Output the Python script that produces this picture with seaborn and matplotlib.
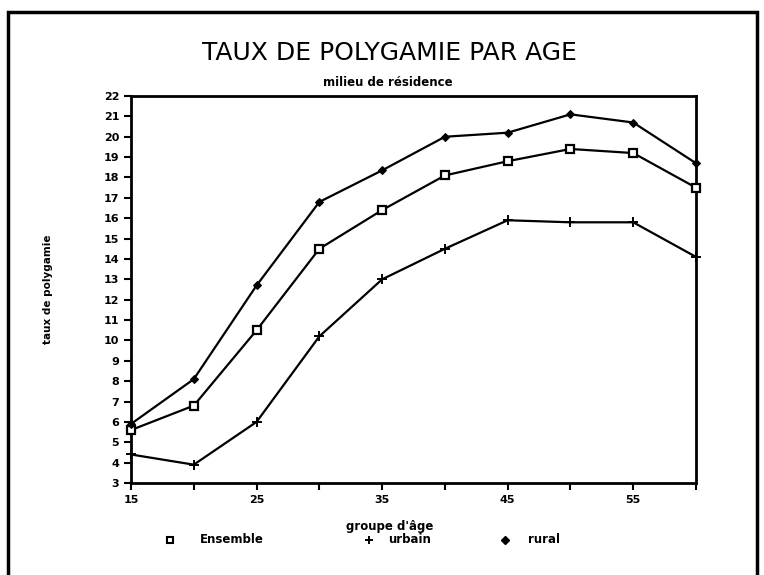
import pandas as pd
import numpy as np
import seaborn as sns
import matplotlib.pyplot as plt
from matplotlib.lines import Line2D
from matplotlib.patches import Rectangle

ages = [15, 20, 25, 30, 35, 40, 45, 50, 55, 60]
ensemble = [5.6, 6.8, 10.5, 14.5, 16.4, 18.1, 18.8, 19.4, 19.2, 17.5]
urbain = [4.4, 3.9, 6.0, 10.2, 13.0, 14.5, 15.9, 15.8, 15.8, 14.1]
rural = [5.9, 8.1, 12.7, 16.8, 18.35, 20.0, 20.2, 21.1, 20.7, 18.7]
series = ["Ensemble", "urbain", "rural"]
xtick_labels = [15, 25, 35, 45, 55]

sns.set_style("ticks")
plt.rcParams["font.family"] = ["DejaVu Sans"]
plt.rcParams["text.color"] = "black"
plt.rcParams["xtick.color"] = "black"
plt.rcParams["ytick.color"] = "black"

df = pd.DataFrame({
    "age": ages * 3,
    "taux": ensemble + urbain + rural,
    "milieu": [s for s in series for _ in ages],
})

fig = plt.figure(figsize=(7.64, 5.75), dpi=100)
ax = fig.add_axes([0.1715, 0.16, 0.7395, 0.673])

# one call per series: seaborn won't mix filled and line-art markers
marker_kw = {
    "Ensemble": dict(marker="s", markersize=5.5, markerfacecolor="white",
                     markeredgecolor="black", markeredgewidth=1.6),
    "urbain": dict(marker="+", markersize=6.5, markeredgewidth=1.4,
                   markeredgecolor="black"),
    "rural": dict(marker="D", markersize=4.5, markerfacecolor="black",
                  markeredgecolor="black"),
}
for name in series:
    sns.lineplot(data=df[df["milieu"] == name], x="age", y="taux",
                 color="black", linewidth=1.6, ax=ax, **marker_kw[name])
for line in ax.lines:
    line.set_clip_on(False)
    line.set_zorder(5)

ax.set_xlim(15, 60)
ax.set_ylim(3, 22)
ax.set_xticks(np.arange(15, 61, 5))
ax.set_xticklabels([str(a) if a in xtick_labels else "" for a in range(15, 61, 5)])
ax.set_yticks(np.arange(3, 23, 1))
ax.tick_params(axis="both", direction="out", length=5, width=1.5, labelsize=8)
for lab in ax.get_xticklabels() + ax.get_yticklabels():
    lab.set_fontweight("bold")
for sp in ax.spines.values():
    sp.set_visible(True)
    sp.set_linewidth(2)
    sp.set_color("black")
ax.set_xlabel("")
ax.set_ylabel("")

fig.text(0.51, 0.907, "TAUX DE POLYGAMIE PAR AGE", ha="center", va="center",
         fontsize=18)
fig.text(0.508, 0.856, "milieu de résidence", ha="center", va="center",
         fontsize=8.5, fontweight="bold")
fig.text(0.063, 0.497, "taux de polygamie", ha="center", va="center",
         rotation=90, fontsize=7.5, fontweight="bold")
fig.text(0.51, 0.084, "groupe d'âge", ha="center", va="center",
         fontsize=8.5, fontweight="bold")

# legend row under the x label: marker then label
legend_marks = [
    dict(marker="s", mfc="white", mec="black", mew=1.5, ms=5),
    dict(marker="+", color="black", mew=1.4, ms=6),
    dict(marker="D", color="black", ms=4),
]
marker_x = [0.222, 0.483, 0.661]
text_x = [0.262, 0.508, 0.691]
for name, mk, mx, tx in zip(series, legend_marks, marker_x, text_x):
    fig.add_artist(Line2D([mx], [0.061], ls="none", transform=fig.transFigure, **mk))
    fig.text(tx, 0.061, name, ha="left", va="center", fontsize=8.5,
             fontweight="bold")

fig.patches.append(Rectangle((0.011, -0.1), 0.98, 1.079, transform=fig.transFigure,
                             fill=False, edgecolor="black", linewidth=2.5))

plt.savefig("out.png", dpi=100)
